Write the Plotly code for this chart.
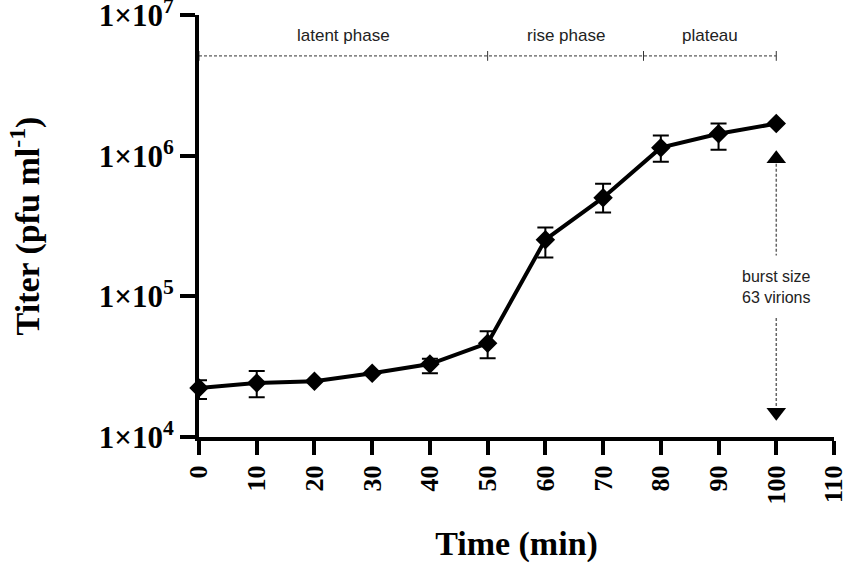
import math
import plotly.graph_objects as go

# one-step growth curve
time_min = [0, 10, 20, 30, 40, 50, 60, 70, 80, 90, 100]
titer = [22300, 24200, 24900, 28400, 33000, 46400, 253000, 503000, 1140000, 1430000, 1690000]
err_up = [25300, 29400, 24900, 28400, 36000, 56500, 308000, 632000, 1390000, 1690000, 1690000]
err_low = [18600, 19200, 24900, 28400, 28400, 36300, 189000, 394000, 906000, 1100000, 1690000]

# phase bracket along the top
phase_bounds = [0, 50, 77, 100]
phase_names = ["latent phase", "rise phase", "plateau"]
bracket_y = 5.12e6
label_y = 7.1e6

# burst size arrow
burst_x = 100
burst_top = 9.5e5
burst_bottom = 1.5e4
burst_gap = (1.95e5, 7.0e4)
burst_text = "burst size<br>63 virions"
burst_text_y = 1.17e5

y_ticks = [1e4, 1e5, 1e6, 1e7]
y_ticktext = ["1×10<sup>4</sup>", "1×10<sup>5</sup>", "1×10<sup>6</sup>", "1×10<sup>7</sup>"]

serif = "Liberation Serif"
sans = "Liberation Sans"

fig = go.Figure()

fig.add_trace(go.Scatter(
    x=time_min, y=titer, mode="lines+markers",
    line=dict(color="black", width=4),
    marker=dict(symbol="diamond", size=15, color="black"),
    error_y=dict(type="data", symmetric=False,
                 array=[u - t for u, t in zip(err_up, titer)],
                 arrayminus=[t - l for t, l in zip(titer, err_low)],
                 color="black", thickness=2, width=8),
    cliponaxis=False, showlegend=False,
))

# dashed bracket with small ticks at the boundaries
fig.add_trace(go.Scatter(
    x=[phase_bounds[0], phase_bounds[-1]], y=[bracket_y, bracket_y], mode="lines",
    line=dict(color="#333333", width=1, dash="3px,2px"),
    cliponaxis=False, showlegend=False, hoverinfo="skip",
))
fig.add_trace(go.Scatter(
    x=phase_bounds, y=[bracket_y] * len(phase_bounds), mode="markers",
    marker=dict(symbol="line-ns", size=7, line=dict(color="#333333", width=1)),
    cliponaxis=False, showlegend=False, hoverinfo="skip",
))
for i, name in enumerate(phase_names):
    fig.add_annotation(
        x=(phase_bounds[i] + phase_bounds[i + 1]) / 2, y=math.log10(label_y),
        text=name, showarrow=False,
        font=dict(family=sans, size=17, color="#222222"),
    )

# burst size double arrow (dashed shaft broken around the text)
for seg in [(burst_top, burst_gap[0]), (burst_gap[1], burst_bottom)]:
    fig.add_trace(go.Scatter(
        x=[burst_x, burst_x], y=list(seg), mode="lines",
        line=dict(color="#666666", width=1.5, dash="3px,2px"),
        cliponaxis=False, showlegend=False, hoverinfo="skip",
    ))
fig.add_trace(go.Scatter(
    x=[burst_x, burst_x], y=[burst_top, burst_bottom], mode="markers",
    marker=dict(symbol=["triangle-up", "triangle-down"], size=17, color="black"),
    cliponaxis=False, showlegend=False, hoverinfo="skip",
))
fig.add_annotation(
    x=burst_x, y=math.log10(burst_text_y), text=burst_text, showarrow=False,
    font=dict(family=sans, size=16, color="#222222"),
)

fig.update_layout(
    width=851, height=563,
    margin=dict(l=199, r=17, t=15, b=126),
    plot_bgcolor="white", paper_bgcolor="white",
    xaxis=dict(
        range=[0, 110], tickvals=list(range(0, 111, 10)), tickangle=-90,
        showgrid=False, zeroline=False, automargin=False, ticklabeloverflow="allow",
        showline=True, linecolor="black", linewidth=4,
        ticks="outside", ticklen=14, tickwidth=4, tickcolor="black",
        tickfont=dict(family=serif, size=26, color="black", weight="bold"),
        title=dict(text="<b>Time (min)</b>", font=dict(family=serif, size=34, color="black"), standoff=29),
    ),
    yaxis=dict(
        type="log", range=[3.9999, 7.0001], tickvals=y_ticks, ticktext=y_ticktext,
        showgrid=False, zeroline=False, automargin=False, ticklabeloverflow="allow",
        showline=True, linecolor="black", linewidth=4,
        ticks="outside", ticklen=15, tickwidth=4, tickcolor="black",
        tickfont=dict(family=serif, size=31, color="black", weight="bold"),
        title=dict(text="<b>Titer (pfu ml<sup>-1</sup>)</b>", font=dict(family=serif, size=34, color="black"), standoff=50),
    ),
)

# drop the default body margin so the figure fills the window
fig.write_html("out.html", config={"displayModeBar": False},
               post_script="document.body.style.margin = '0';")
